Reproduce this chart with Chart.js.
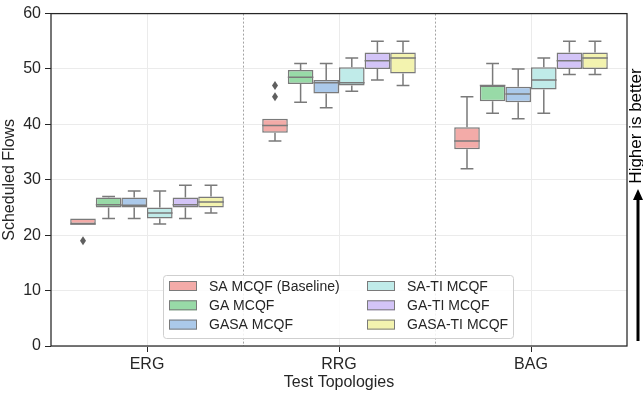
<!DOCTYPE html>
<html>
<head>
<meta charset="utf-8">
<title>Scheduled Flows by Test Topology</title>
<script src="https://cdn.jsdelivr.net/npm/chart.js"></script>
<style>
  body { margin: 0; background: #fff; }
</style>
</head>
<body>
<canvas id="chart" width="643" height="394"></canvas>
<script>
const topologies = ['ERG', 'RRG', 'BAG'];
const methods = ['SA MCQF (Baseline)', 'GA MCQF', 'GASA MCQF', 'SA-TI MCQF', 'GA-TI MCQF', 'GASA-TI MCQF'];

// box stats per topology: [min, q1, median, q3, max]
const saStats     = [[22, 22, 22, 23, 23], [37, 38.5, 39.8, 41, 41], [32, 35.5, 37, 39.5, 45]];
const gaStats     = [[23, 25, 25.5, 26.8, 27], [44, 47.3, 48.5, 49.8, 51], [42, 44.2, 47, 47, 51]];
const gasaStats   = [[23, 25, 25.4, 26.8, 28], [43, 45.6, 47.5, 48, 51], [41, 44, 45.5, 46.8, 50]];
const saTiStats   = [[22, 23, 24, 25, 28], [46, 47, 47.5, 50.3, 52], [42, 46.3, 48, 50.3, 52]];
const gaTiStats   = [[23, 25, 25.5, 26.8, 29], [48, 50, 51.5, 53, 55], [49, 50, 51.5, 53, 55]];
const gasaTiStats = [[24, 25, 26, 27, 29], [47, 49.2, 52, 53, 55], [49, 50, 52, 53, 55]];

// fliers per topology
const saOutliers = [[19], [45, 47], []];
const noOutliers = [[], [], []];

const stats = [saStats, gaStats, gasaStats, saTiStats, gaTiStats, gasaTiStats];
const outliers = [saOutliers, noOutliers, noOutliers, noOutliers, noOutliers, noOutliers];
const fills = ['#f3aba8', '#98daa7', '#abc9ea', '#c0ebe9', '#d3c4f7', '#f3f3af'];

const family = "'Liberation Sans', Arial, sans-serif";
const ink = '#262626';
const edge = '#7a7a7a';

const boxDetails = {
  id: 'boxDetails',
  beforeDatasetsDraw(chart) {
    // dashed separators between topologies
    const { ctx, chartArea: a, scales: { x } } = chart;
    ctx.save();
    ctx.strokeStyle = '#8c8c8c';
    ctx.lineWidth = 0.8;
    ctx.setLineDash([2, 2]);
    for (let i = 0; i < topologies.length - 1; i++) {
      const px = Math.round(x.getPixelForValue(i + 0.5)) + 0.5;
      ctx.beginPath();
      ctx.moveTo(px, a.top);
      ctx.lineTo(px, a.bottom);
      ctx.stroke();
    }
    ctx.restore();
  },
  afterDatasetsDraw(chart) {
    const { ctx, chartArea: a, scales: { y } } = chart;
    ctx.save();
    ctx.strokeStyle = edge;
    ctx.lineWidth = 1.5;
    stats.forEach((series, i) => {
      const meta = chart.getDatasetMeta(i);
      meta.data.forEach((bar, j) => {
        const { x, width } = bar.getProps(['x', 'width'], true);
        const [lo, q1, med, q3, hi] = series[j];
        const cap = width / 4;
        ctx.beginPath();
        if (hi > q3) {
          ctx.moveTo(x, y.getPixelForValue(q3));
          ctx.lineTo(x, y.getPixelForValue(hi));
          ctx.moveTo(x - cap, y.getPixelForValue(hi));
          ctx.lineTo(x + cap, y.getPixelForValue(hi));
        }
        if (lo < q1) {
          ctx.moveTo(x, y.getPixelForValue(q1));
          ctx.lineTo(x, y.getPixelForValue(lo));
          ctx.moveTo(x - cap, y.getPixelForValue(lo));
          ctx.lineTo(x + cap, y.getPixelForValue(lo));
        }
        ctx.moveTo(x - width / 2, y.getPixelForValue(med));
        ctx.lineTo(x + width / 2, y.getPixelForValue(med));
        ctx.stroke();

        ctx.fillStyle = '#5f5f5f';
        outliers[i][j].forEach(v => {
          const py = y.getPixelForValue(v);
          ctx.beginPath();
          ctx.moveTo(x, py - 4.5);
          ctx.lineTo(x + 3, py);
          ctx.lineTo(x, py + 4.5);
          ctx.lineTo(x - 3, py);
          ctx.closePath();
          ctx.fill();
        });
      });
    });
    // axes frame
    ctx.strokeStyle = ink;
    ctx.lineWidth = 1.25;
    ctx.strokeRect(a.left, a.top, a.right - a.left, a.bottom - a.top);
    ctx.restore();
  },
  afterDraw(chart) {
    const { ctx } = chart;
    ctx.save();
    // legend, two columns of three
    ctx.fillStyle = 'rgba(255,255,255,0.85)';
    ctx.strokeStyle = '#cfcfcf';
    ctx.lineWidth = 1;
    ctx.beginPath();
    ctx.roundRect(163.5, 275.5, 350, 63, 3);
    ctx.fill();
    ctx.stroke();
    ctx.font = '14px ' + family;
    ctx.textBaseline = 'middle';
    methods.forEach((name, i) => {
      const col = Math.floor(i / 3), row = i % 3;
      const px = 169 + col * 198, py = 286 + row * 19.3;
      ctx.fillStyle = fills[i];
      ctx.fillRect(px, py - 5, 28, 10);
      ctx.strokeStyle = edge;
      ctx.strokeRect(px + 0.5, py - 4.5, 27, 9);
      ctx.fillStyle = ink;
      ctx.fillText(name, px + 40, py + 1);
    });
    // "higher is better" arrow
    ctx.strokeStyle = '#000';
    ctx.fillStyle = '#000';
    ctx.lineWidth = 3;
    ctx.beginPath();
    ctx.moveTo(638, 341);
    ctx.lineTo(638, 198);
    ctx.stroke();
    ctx.beginPath();
    ctx.moveTo(638, 189);
    ctx.lineTo(633, 200);
    ctx.lineTo(643, 200);
    ctx.closePath();
    ctx.fill();
    ctx.translate(635, 126);
    ctx.rotate(-Math.PI / 2);
    ctx.font = '17px ' + family;
    ctx.textAlign = 'center';
    ctx.fillText('Higher is better', 0, 1);
    ctx.restore();
  }
};

const ctx = document.getElementById('chart').getContext('2d');
new Chart(ctx, {
  type: 'bar',
  data: {
    labels: topologies,
    datasets: methods.map((name, i) => ({
      label: name,
      data: stats[i].map(s => [s[1], s[3]]),
      backgroundColor: fills[i],
      borderColor: edge,
      borderWidth: 1.5,
      borderSkipped: false,
      categoryPercentage: 0.8,
      barPercentage: 1.0
    }))
  },
  options: {
    responsive: false,
    animation: false,
    layout: { padding: { top: 8, right: 16, left: 0, bottom: 0 } },
    plugins: {
      legend: { display: false },
      tooltip: { enabled: false }
    },
    scales: {
      x: {
        grid: { offset: false, color: '#ebebeb', tickColor: ink, tickLength: 6 },
        border: { display: false },
        ticks: { color: ink, font: { family, size: 16 }, padding: 3 },
        title: { display: true, text: 'Test Topologies', color: ink, font: { family, size: 16 }, padding: { top: 0, bottom: 2 } },
        afterFit(scale) { scale.height = 48; }
      },
      y: {
        min: 0,
        max: 60,
        grid: { color: '#ebebeb', tickColor: ink, tickLength: 6 },
        border: { display: false },
        ticks: { stepSize: 10, color: ink, font: { family, size: 16 }, padding: 4 },
        title: { display: true, text: 'Scheduled Flows', color: ink, font: { family, size: 16 }, padding: { top: 0, bottom: 0 } },
        afterFit(scale) { scale.width = 51; }
      }
    }
  },
  plugins: [boxDetails]
});
</script>
</body>
</html>
